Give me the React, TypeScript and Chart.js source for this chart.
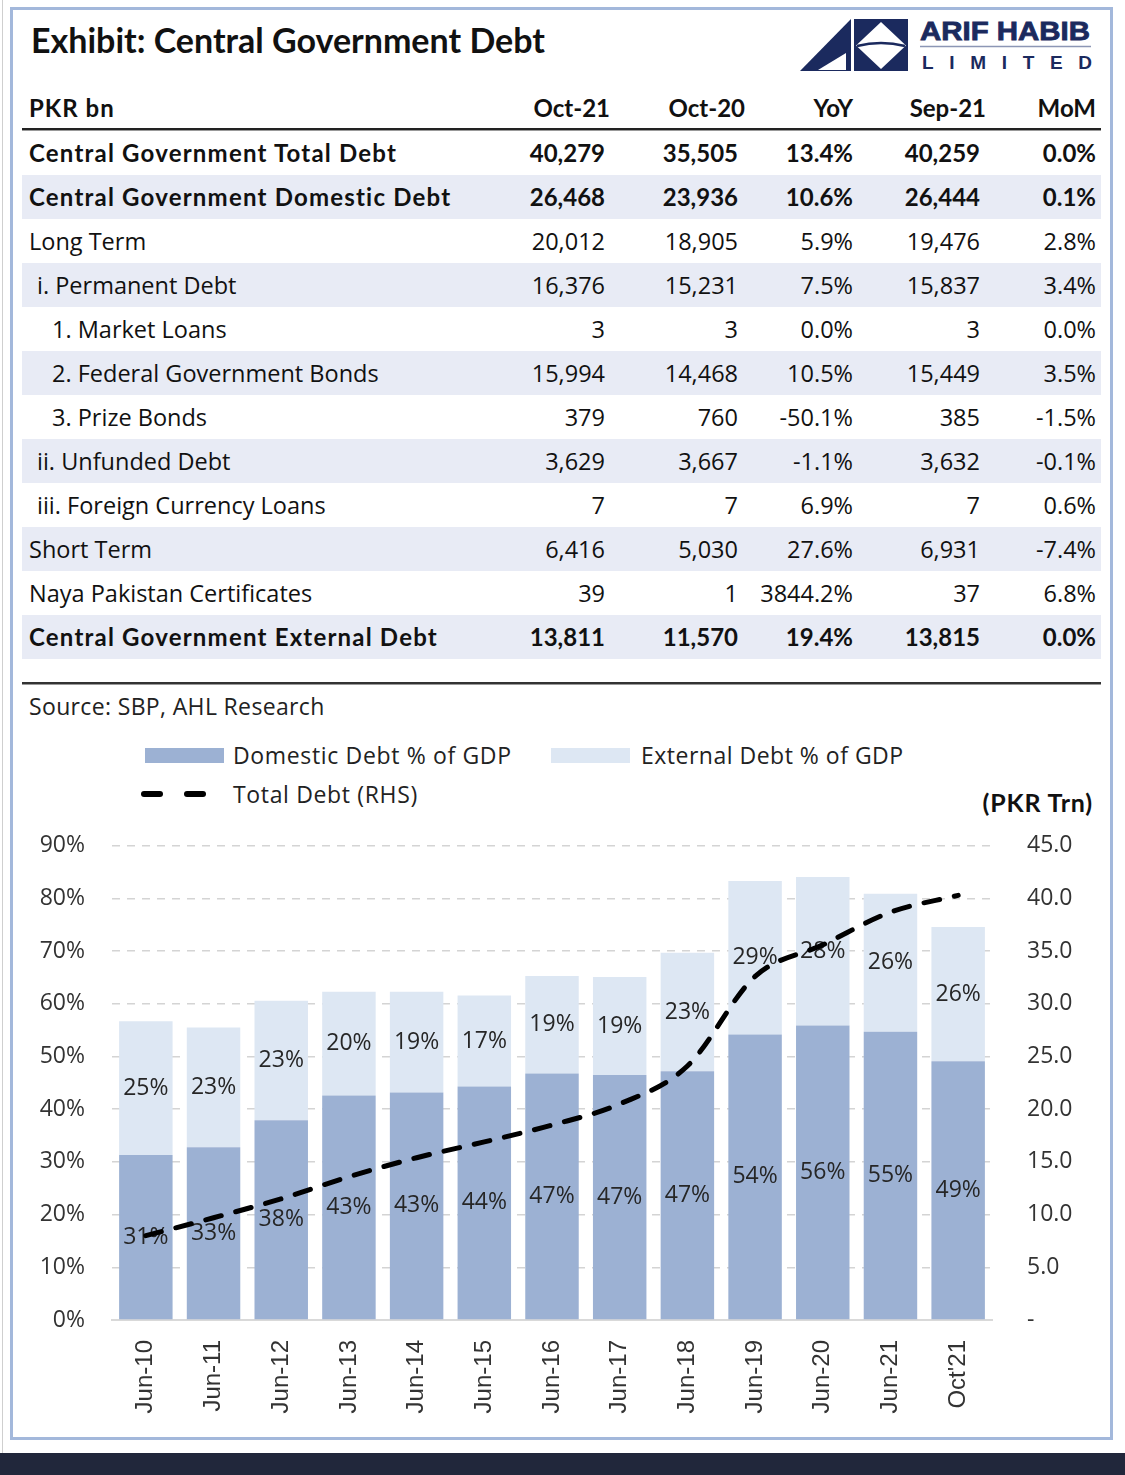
import React, { useEffect, useRef } from "react";
import { Chart, registerables } from "chart.js";

Chart.register(...registerables);

// ---------- chart data ----------
const categories = ["Jun-10", "Jun-11", "Jun-12", "Jun-13", "Jun-14", "Jun-15", "Jun-16", "Jun-17", "Jun-18", "Jun-19", "Jun-20", "Jun-21", "Oct'21"];
const domesticPct = [31.3, 32.8, 37.9, 42.6, 43.2, 44.3, 46.8, 46.5, 47.2, 54.2, 55.9, 54.7, 49.1];
const externalPct = [25.4, 22.7, 22.7, 19.7, 19.1, 17.3, 18.5, 18.6, 22.5, 29.1, 28.2, 26.2, 25.5];
const totalDebtTrn = [8.0, 9.7, 11.5, 13.6, 15.4, 16.9, 18.5, 20.5, 24.1, 32.6, 35.6, 38.7, 40.3];
const seriesNames = ["Domestic Debt % of GDP", "External Debt % of GDP", "Total Debt (RHS)"];

// ---------- table data ----------
const tableHeaders = ["Oct-21", "Oct-20", "YoY", "Sep-21", "MoM"];
const rowLabels = [
  "Central Government Total Debt",
  "Central Government Domestic Debt",
  "Long Term",
  "i. Permanent Debt",
  "1. Market Loans",
  "2. Federal Government Bonds",
  "3. Prize Bonds",
  "ii. Unfunded Debt",
  "iii. Foreign Currency Loans",
  "Short Term",
  "Naya Pakistan Certificates",
  "Central Government External Debt",
];
const rowIndent = [0, 0, 0, 1, 2, 2, 2, 1, 1, 0, 0, 0];
const rowBold = [true, true, false, false, false, false, false, false, false, false, false, true];
const oct21 = [40279, 26468, 20012, 16376, 3, 15994, 379, 3629, 7, 6416, 39, 13811];
const oct20 = [35505, 23936, 18905, 15231, 3, 14468, 760, 3667, 7, 5030, 1, 11570];
const yoy = [13.4, 10.6, 5.9, 7.5, 0.0, 10.5, -50.1, -1.1, 6.9, 27.6, 3844.2, 19.4];
const sep21 = [40259, 26444, 19476, 15837, 3, 15449, 385, 3632, 7, 6931, 37, 13815];
const mom = [0.0, 0.1, 2.8, 3.4, 0.0, 3.5, -1.5, -0.1, 0.6, -7.4, 6.8, 0.0];

// ---------- styles ----------
const NAVY = "#1b2a5e";
const DOM_COLOR = "#9cb1d3";
const EXT_COLOR = "#dde7f3";
const SHADE = "#e8ebf5";
const FRAME = "#a3b8db";
const REG_FONT = '"Open Sans", sans-serif';
const BOLD_FONT = 'Lato, sans-serif';

const headerRight = [610, 745, 853, 986, 1096];
const valueRight = [605, 738, 853, 980, 1096];
const indentPx = [0, 8, 23];
const ROW_TOP = 131;
const ROW_H = 44;
const CANVAS_TOP = 797;
const CANVAS_H = 623;

const fmtNum = (v: number) => v.toLocaleString("en-US");
const fmtPct = (v: number) => v.toFixed(1) + "%";

const barLabelPlugin = {
  id: "barLabels",
  afterDatasetDraw(chart: any, args: any) {
    const meta = args.meta;
    if (meta.type !== "bar") return;
    const data = chart.data.datasets[args.index].data as number[];
    const ctx = chart.ctx;
    ctx.save();
    ctx.font = '23px "Open Sans"';
    ctx.fillStyle = "#262626";
    ctx.textAlign = "center";
    ctx.textBaseline = "middle";
    meta.data.forEach((el: any, i: number) => {
      const p = el.getProps(["x", "y", "base"], true);
      ctx.fillText(Math.round(data[i]) + "%", p.x, (p.y + p.base) / 2);
    });
    ctx.restore();
  },
};

function DebtChart() {
  const ref = useRef<HTMLCanvasElement | null>(null);
  useEffect(() => {
    if (!ref.current) return;
    const chart = new Chart(ref.current, {
      type: "bar",
      data: {
        labels: categories,
        datasets: [
          {
            type: "line",
            label: seriesNames[2],
            data: totalDebtTrn,
            yAxisID: "y1",
            borderColor: "#000",
            borderWidth: 5,
            borderDash: [16, 15],
            borderCapStyle: "round",
            pointRadius: 0,
            cubicInterpolationMode: "monotone",
            order: 0,
          } as any,
          {
            label: seriesNames[0],
            data: domesticPct,
            backgroundColor: DOM_COLOR,
            yAxisID: "y",
            barPercentage: 0.79,
            categoryPercentage: 1,
            order: 1,
          },
          {
            label: seriesNames[1],
            data: externalPct,
            backgroundColor: EXT_COLOR,
            yAxisID: "y",
            barPercentage: 0.79,
            categoryPercentage: 1,
            order: 2,
          },
        ],
      },
      options: {
        responsive: false,
        animation: false,
        layout: { padding: { top: 0, left: 0, right: 0, bottom: 0 } },
        plugins: { legend: { display: false }, tooltip: { enabled: false } },
        scales: {
          x: {
            stacked: true,
            grid: { display: false, drawTicks: false },
            border: { display: true, color: "#d9d9d9", width: 2 },
            ticks: {
              autoSkip: false,
              minRotation: 90,
              maxRotation: 90,
              padding: 20,
              color: "#333",
              font: { family: '"Liberation Sans", Arial, sans-serif', size: 24 },
            },
            afterFit: (s: any) => {
              s.height = 100;
            },
          },
          y: {
            stacked: true,
            position: "left",
            min: 0,
            max: 90,
            grid: {
              drawTicks: false,
              lineWidth: 1.5,
              color: (c: any) => (c.tick && c.tick.value === 0 ? "rgba(0,0,0,0)" : "#d4d4d4"),
            },
            border: { display: false, dash: [8, 7] },
            ticks: {
              stepSize: 10,
              padding: 27,
              color: "#333",
              font: { family: REG_FONT, size: 23 },
              callback: (v: any) => v + "%",
            },
            afterFit: (s: any) => {
              s.width = 112;
            },
          },
          y1: {
            position: "right",
            min: 0,
            max: 45,
            grid: { drawOnChartArea: false, drawTicks: false },
            border: { display: false },
            ticks: {
              stepSize: 5,
              padding: 35,
              color: "#333",
              font: { family: REG_FONT, size: 23 },
              callback: (v: any) => (Number(v) === 0 ? "-" : Number(v).toFixed(1)),
            },
            afterFit: (s: any) => {
              s.width = 133;
            },
          },
        },
      } as any,
      plugins: [barLabelPlugin],
    });
    if ((document as any).fonts && (document as any).fonts.ready) {
      (document as any).fonts.ready.then(() => chart.update());
    }
    return () => chart.destroy();
  }, []);
  return (
    <canvas
      ref={ref}
      width={1125}
      height={CANVAS_H}
      style={{ position: "absolute", left: 0, top: CANVAS_TOP, width: 1125, height: CANVAS_H }}
    />
  );
}

function Logo() {
  return (
    <svg width={1125} height={90} style={{ position: "absolute", left: 0, top: 0 }}>
      <polygon points="800,71 851,19 851,71" fill={NAVY} />
      <polygon points="818,70 846,53 846,70" fill="#fff" />
      <rect x={854} y={19} width={54} height={52} fill={NAVY} />
      <polygon points="881,22 906,45.5 881,69 856,45.5" fill="#fff" />
      <path d="M857 46 Q881 40 905 46" stroke={NAVY} strokeWidth={2.5} fill="none" />
      <text x={920} y={40} textLength={170} lengthAdjust="spacingAndGlyphs" fill={NAVY}
        style={{ font: '900 26px "Liberation Sans", Arial, sans-serif' }} stroke={NAVY} strokeWidth={0.8}>ARIF HABIB</text>
      <line x1={920} y1={46.5} x2={1091} y2={46.5} stroke="#8c96b5" strokeWidth={1.5} />
      <text x={922} y={69} textLength={170} lengthAdjust="spacing" fill={NAVY}
        style={{ font: 'bold 19px "Liberation Sans", Arial, sans-serif' }}>LIMITED</text>
    </svg>
  );
}

function Table() {
  const cols = [oct21, oct20, yoy, sep21, mom];
  const isPct = [false, false, true, false, true];
  const els: any[] = [];
  rowLabels.forEach((label, i) => {
    const top = ROW_TOP + ROW_H * i;
    const bold = rowBold[i];
    const font = bold ? BOLD_FONT : REG_FONT;
    const weight = bold ? 700 : 400;
    const size = bold ? 24 : 23.5;
    if (i % 2 === 1) {
      els.push(<div key={"bg" + i} style={{ position: "absolute", left: 22, top, width: 1079, height: ROW_H, background: SHADE }} />);
    }
    els.push(
      <div key={"l" + i} style={{ position: "absolute", left: 29 + indentPx[rowIndent[i]], top, height: ROW_H, lineHeight: ROW_H + "px", fontFamily: font, fontWeight: weight, fontSize: size, letterSpacing: bold ? 1.2 : 0, color: "#111", whiteSpace: "nowrap" }}>
        {label}
      </div>
    );
    cols.forEach((col, c) => {
      const txt = isPct[c] ? fmtPct(col[i]) : fmtNum(col[i]);
      els.push(
        <div key={"v" + i + "_" + c} style={{ position: "absolute", left: 0, width: valueRight[c], textAlign: "right", top, height: ROW_H, lineHeight: ROW_H + "px", fontFamily: font, fontWeight: weight, fontSize: size, color: "#111", whiteSpace: "nowrap" }}>
          {txt}
        </div>
      );
    });
  });
  return (
    <>
      <div style={{ position: "absolute", left: 29, top: 86, height: 44, lineHeight: "44px", fontFamily: BOLD_FONT, fontWeight: 700, fontSize: 24, letterSpacing: 1, color: "#111" }}>PKR bn</div>
      {tableHeaders.map((h, c) => (
        <div key={"h" + c} style={{ position: "absolute", left: 0, width: headerRight[c], textAlign: "right", top: 86, height: 44, lineHeight: "44px", fontFamily: BOLD_FONT, fontWeight: 700, fontSize: 24, color: "#111" }}>{h}</div>
      ))}
      <div style={{ position: "absolute", left: 22, top: 128, width: 1079, height: 2, background: "#222" }} />
      <div style={{ position: "absolute", left: 22, top: 130, width: 1079, height: 1, background: "#999" }} />
      {els}
      <div style={{ position: "absolute", left: 22, top: 682, width: 1079, height: 2, background: "#333" }} />
      <div style={{ position: "absolute", left: 22, top: 684, width: 1079, height: 1, background: "#999" }} />
    </>
  );
}

function Legend() {
  const txt = { position: "absolute" as const, height: 36, lineHeight: "36px", fontFamily: REG_FONT, fontSize: 23, letterSpacing: 0.65, color: "#222", whiteSpace: "nowrap" as const };
  return (
    <>
      <div style={{ position: "absolute", left: 145, top: 748, width: 79, height: 15, background: DOM_COLOR }} />
      <div style={{ ...txt, left: 233, top: 737 }}>{seriesNames[0]}</div>
      <div style={{ position: "absolute", left: 551, top: 748, width: 79, height: 15, background: EXT_COLOR }} />
      <div style={{ ...txt, left: 641, top: 737, letterSpacing: 0.5 }}>{seriesNames[1]}</div>
      <div style={{ position: "absolute", left: 141, top: 791, width: 22, height: 6, borderRadius: 3, background: "#000" }} />
      <div style={{ position: "absolute", left: 184, top: 791, width: 22, height: 6, borderRadius: 3, background: "#000" }} />
      <div style={{ ...txt, left: 233, top: 776 }}>{seriesNames[2]}</div>
    </>
  );
}

export default function App() {
  return (
    <div style={{ position: "absolute", left: 0, top: 0, width: 1125, height: 1475, background: "#fff", overflow: "hidden" }}>
      <div style={{ position: "absolute", left: 2, top: 0, width: 1, height: 1453, background: "#cfcfcf" }} />
      <div style={{ position: "absolute", left: 10, top: 7, width: 1097, height: 1427, border: `3px solid ${FRAME}` }} />
      <div style={{ position: "absolute", left: 0, top: 1453, width: 1125, height: 22, background: "#21273b" }} />
      <div style={{ position: "absolute", left: 31, top: 18, height: 44, lineHeight: "44px", fontFamily: BOLD_FONT, fontWeight: 700, fontSize: 34, color: "#111", whiteSpace: "nowrap" }}>
        Exhibit: Central Government Debt
      </div>
      <Logo />
      <Table />
      <div style={{ position: "absolute", left: 29, top: 688, height: 36, lineHeight: "36px", fontFamily: REG_FONT, fontSize: 23, letterSpacing: 0.35, color: "#222" }}>
        Source: SBP, AHL Research
      </div>
      <Legend />
      <div style={{ position: "absolute", left: 0, width: 1093, textAlign: "right", top: 784, height: 36, lineHeight: "36px", fontFamily: BOLD_FONT, fontWeight: 700, fontSize: 25, letterSpacing: 0.8, color: "#111" }}>
        (PKR Trn)
      </div>
      <DebtChart />
    </div>
  );
}
